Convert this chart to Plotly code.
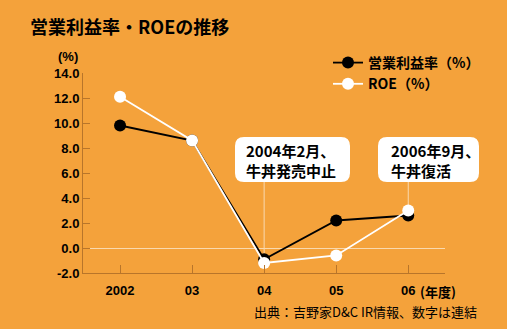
import plotly.graph_objects as go

years = ["2002", "03", "04", "05", "06"]
op_margin = [9.8, 8.6, -0.9, 2.2, 2.6]
roe = [12.1, 8.6, -1.2, -0.6, 3.0]
y_ticks = [-2, 0, 2, 4, 6, 8, 10, 12, 14]
y_tick_text = ["-2.0", "0.0", "2.0", "4.0", "6.0", "8.0", "10.0", "12.0", "14.0"]

BG = "#F4A23B"
AX = "#B8752A"
FONT = "Liberation Sans, Noto Sans CJK JP, sans-serif"
JP = "Noto Sans CJK JP, sans-serif"

x = list(range(len(years)))

fig = go.Figure()
fig.add_trace(go.Scatter(x=x, y=op_margin, mode="lines+markers", name="営業利益率（%）",
                         line=dict(color="black", width=1.8),
                         marker=dict(color="black", size=12)))
fig.add_trace(go.Scatter(x=x, y=roe, mode="lines+markers", name="ROE（%）",
                         line=dict(color="white", width=1.8),
                         marker=dict(color="white", size=12)))

L, R, T, B = 83, 62, 73, 56
W, H = 507, 329
pw, ph = W - L - R, H - T - B

def px2paper(px, py):
    return (px - L) / pw, (H - B - py) / ph

def rounded_rect(x0, y0, x1, y1, r):
    def P(a, b):
        u, v = px2paper(a, b)
        return f"{u:.5f},{v:.5f}"
    return (f"M {P(x0 + r, y0)} L {P(x1 - r, y0)} Q {P(x1, y0)} {P(x1, y0 + r)} "
            f"L {P(x1, y1 - r)} Q {P(x1, y1)} {P(x1 - r, y1)} L {P(x0 + r, y1)} "
            f"Q {P(x0, y1)} {P(x0, y1 - r)} L {P(x0, y0 + r)} Q {P(x0, y0)} {P(x0 + r, y0)} Z")

shapes = []
for xi, y_bottom_val in [(2, roe[2]), (4, roe[4])]:
    _, ytop = px2paper(0, 182)
    shapes.append(dict(type="line", xref="x", yref="paper", x0=xi, x1=xi,
                       y0=ytop, y1=(y_bottom_val + 2) / 16, line=dict(color="#F9D9AE", width=1), layer="below"))
for (x0, x1) in [(235, 350), (378, 479)]:
    shapes.append(dict(type="path", xref="paper", yref="paper",
                       path=rounded_rect(x0, 137, x1, 182, 9),
                       fillcolor="white", line=dict(width=0)))

annotations = []
for lx, txt in [(244, "2004年2月、<br>牛丼発売中止"), (389, "2006年9月、<br>牛丼復活")]:
    u, v = px2paper(lx, 160)
    annotations.append(dict(xref="paper", yref="paper", x=u, y=v, text=txt, showarrow=False,
                            xanchor="left", yanchor="middle", align="left",
                            font=dict(family=JP, size=15, color="black", weight="bold")))
u, v = px2paper(68, 57)
annotations.append(dict(xref="paper", yref="paper", x=u, y=v, text="(%)", showarrow=False,
                        xanchor="center", yanchor="middle",
                        font=dict(family=FONT, size=13, color="black", weight="bold")))
u, v = px2paper(418, 291)
annotations.append(dict(xref="paper", yref="paper", x=u, y=v, text="(年度)", showarrow=False,
                        xanchor="left", yanchor="middle",
                        font=dict(family=JP, size=13, color="black", weight="bold")))
u, v = px2paper(479, 311)
annotations.append(dict(xref="paper", yref="paper", x=u, y=v, text="出典：吉野家D&C IR情報、数字は連結",
                        showarrow=False, xanchor="right", yanchor="middle",
                        font=dict(family=JP, size=13, color="black")))

fig.update_layout(
    width=W, height=H,
    margin=dict(l=L, r=R, t=T, b=B),
    paper_bgcolor=BG, plot_bgcolor=BG,
    title=dict(text="営業利益率・ROEの推移", x=30 / W, xanchor="left",
               y=1 - 28 / H, yanchor="middle",
               font=dict(family=JP, size=18, color="black", weight="bold")),
    xaxis=dict(range=[-0.514, 4.51], tickvals=x, ticktext=years, showgrid=False,
               zeroline=False, showline=True, linecolor=AX, linewidth=1,
               ticks="inside", ticklen=8, tickcolor=AX, tickwidth=1,
               ticklabelstandoff=5,
               tickfont=dict(family=FONT, size=13, color="black", weight="bold")),
    yaxis=dict(range=[-2, 14], tickvals=y_ticks, ticktext=y_tick_text, showgrid=False,
               zeroline=True, zerolinecolor="#F9D9AE", zerolinewidth=1,
               showline=True, linecolor=AX, linewidth=1,
               ticks="inside", ticklen=7, tickcolor=AX, tickwidth=1,
               tickfont=dict(family=FONT, size=13, color="black", weight="bold")),
    legend=dict(x=(328 - L) / pw, y=(H - B - 47) / ph, xanchor="left", yanchor="top",
                bgcolor="rgba(0,0,0,0)", tracegroupgap=2,
                font=dict(family=JP, size=14, color="black", weight="bold")),
    shapes=shapes, annotations=annotations,
)

fig.write_html("out.html")
